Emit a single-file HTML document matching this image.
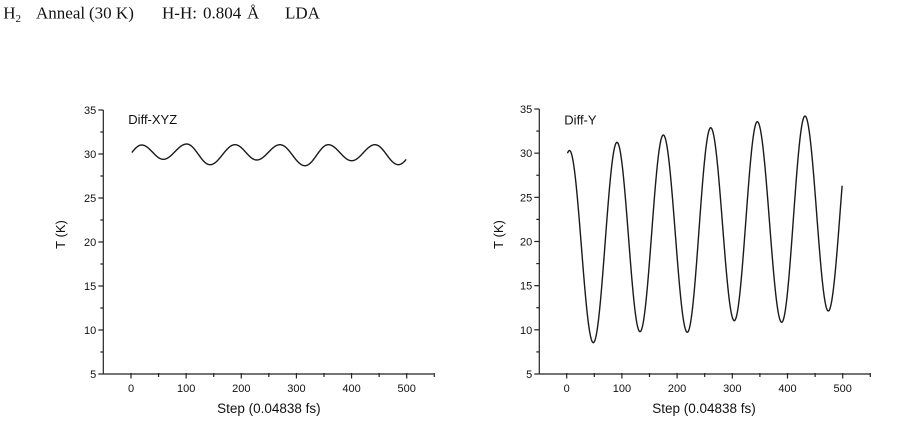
<!DOCTYPE html>
<html>
<head>
<meta charset="utf-8">
<style>
html,body{margin:0;padding:0;background:#fff;}
body{width:900px;height:435px;overflow:hidden;position:relative;}
svg{position:absolute;left:0;top:0;}
.t{font-family:"Liberation Serif",serif;font-size:17px;fill:#111;}
.s{font-family:"Liberation Sans",sans-serif;fill:#111;}
</style>
</head>
<body>
<svg id="c" width="900" height="435" viewBox="0 0 900 435" xmlns="http://www.w3.org/2000/svg">
  <text class="t" x="3.3" y="18.5">H</text>
  <text class="t" x="15.5" y="22" style="font-size:11px">2</text>
  <text class="t" x="36" y="18.5">Anneal</text>
  <text class="t" x="89" y="18.5">(30 K)</text>
  <text class="t" x="162" y="18.5">H-H:</text>
  <text class="t" x="203" y="18.5">0.804</text>
  <text class="t" x="247" y="18.5">Å</text>
  <text class="t" x="285" y="18.5">LDA</text>

  <text class="s" x="128.3" y="124" style="font-size:13px">Diff-XYZ</text>
  <text class="s" x="564.3" y="124.5" style="font-size:13px">Diff-Y</text>

  <text class="s" x="268.9" y="413" text-anchor="middle" style="font-size:13.5px">Step (0.04838 fs)</text>
  <text class="s" x="704" y="413" text-anchor="middle" style="font-size:13.5px">Step (0.04838 fs)</text>

  <text class="s" transform="translate(65,234.5) rotate(-90)" text-anchor="middle" style="font-size:13px">T (K)</text>
  <text class="s" transform="translate(503,234.5) rotate(-90)" text-anchor="middle" style="font-size:13px">T (K)</text>

  <g id="axes" stroke="#222" stroke-width="1.2" fill="none"></g>
  <g id="labels" class="s" style="font-size:11px"></g>
  <path id="p1" fill="none" stroke="#1a1a1a" stroke-width="1.4" stroke-linejoin="round"/>
  <path id="p2" fill="none" stroke="#1a1a1a" stroke-width="1.4" stroke-linejoin="round"/>
</svg>
<script>
(function(){
  var NS="http://www.w3.org/2000/svg";
  var axes=document.getElementById("axes"), labels=document.getElementById("labels");
  function line(x1,y1,x2,y2){var l=document.createElementNS(NS,"line");l.setAttribute("x1",x1);l.setAttribute("y1",y1);l.setAttribute("x2",x2);l.setAttribute("y2",y2);axes.appendChild(l);}
  function txt(x,y,s,anchor){var t=document.createElementNS(NS,"text");t.setAttribute("x",x);t.setAttribute("y",y);t.setAttribute("text-anchor",anchor);t.textContent=s;labels.appendChild(t);}
  function panel(ax,x0,xs,yTop,yBot,xEnd){
    var ys=(yBot-yTop)/30;
    line(ax,yTop,ax,yBot);
    line(ax,yBot,xEnd,yBot);
    for(var v=5;v<=35;v+=2.5){
      var y=yBot-(v-5)*ys;
      var major=(v%5===0);
      line(ax-(major?5:3),y,ax,y);
      if(major) txt(ax-7,y+4,String(v),"end");
    }
    for(var s=-50;s<=550;s+=50){
      var x=x0+s*xs;
      if(s===-50) continue;
      var major=(s%100===0);
      line(x,yBot-1,x,yBot+(major?4.5:3));
      if(major && s>=0 && s<=500) txt(x,yBot+18,String(s),"middle");
    }
  }
  panel(103.3,131,0.5514,110,374,433.5);
  panel(539.3,566.7,0.552,109,374,870);

  function curve(ext,xa,xb){
    var pts=[];
    for(var i=0;i<ext.length-1;i++){
      var a=ext[i],b=ext[i+1];
      var n=Math.max(8,Math.ceil((b[0]-a[0])*2));
      for(var k=0;k<=n;k++){
        var t=k/n, x=a[0]+t*(b[0]-a[0]);
        var y=a[1]+(b[1]-a[1])*(1-Math.cos(Math.PI*t))/2;
        if(x>=xa && x<=xb) pts.push(x.toFixed(2)+","+y.toFixed(2));
      }
    }
    return "M"+pts.join(" L");
  }
  var e1=[[119,164],[141.7,145],[163.3,159.3],[186.7,144],[210,164.7],[235,144.7],[256.7,160],[280,144.7],[305,165.7],[328.3,144.7],[351.7,160.7],[375,144.7],[398.3,164.7],[421,145]];
  document.getElementById("p1").setAttribute("d",curve(e1,131.5,406.5));
  var e2=[[543,345],[569.5,150.5],[593.3,342.7],[617,142.3],[640,331.7],[663.3,135],[687.3,332.3],[710.7,127.7],[734.3,320.7],[757.3,121.7],[781.7,322.3],[805,116],[828.3,311],[852,112]];
  document.getElementById("p2").setAttribute("d",curve(e2,567.5,842.3));
})();
</script>
</body>
</html>
